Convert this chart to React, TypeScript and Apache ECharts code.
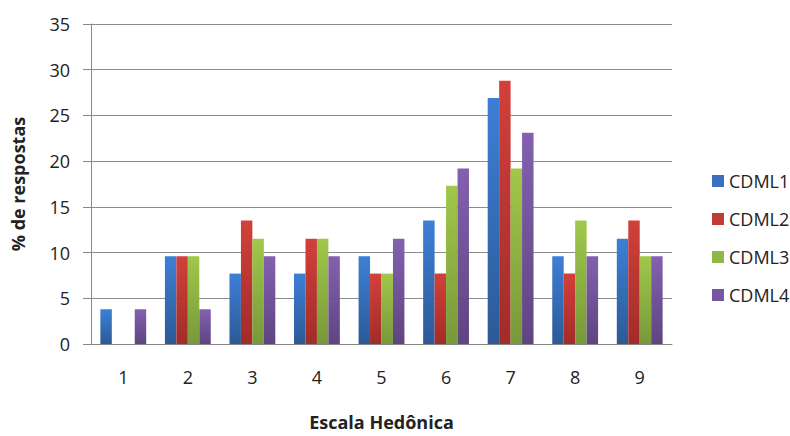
import React, { useEffect, useRef } from "react";
import * as echarts from "echarts";

const categories = ["1", "2", "3", "4", "5", "6", "7", "8", "9"];
const seriesNames = ["CDML1", "CDML2", "CDML3", "CDML4"];
const cdml1 = [3.8, 9.6, 7.7, 7.7, 9.6, 13.5, 26.9, 9.6, 11.5];
const cdml2 = [0, 9.6, 13.5, 11.5, 7.7, 7.7, 28.8, 7.7, 13.5];
const cdml3 = [0, 9.6, 11.5, 11.5, 7.7, 17.3, 19.2, 13.5, 9.6];
const cdml4 = [3.8, 3.8, 9.6, 9.6, 11.5, 19.2, 23.1, 9.6, 9.6];
const seriesData = [cdml1, cdml2, cdml3, cdml4];
const colorsTop = ["#3d7fd6", "#d2403b", "#a0c84a", "#8460b0"];
const colorsBottom = ["#2c5a96", "#a12c28", "#78983a", "#5e4580"];
const legendColors = ["#3a70bf", "#c23a36", "#8fb845", "#7556a0"];

export default function App() {
  const ref = useRef<HTMLDivElement>(null);
  useEffect(() => {
    if (!ref.current) return;
    const chart = echarts.init(ref.current, undefined, { renderer: "svg" });
    const font = "'Open Sans', 'Liberation Sans', sans-serif";
    chart.setOption({
      animation: false,
      textStyle: { fontFamily: font },
      grid: { left: 91, right: 118, top: 24, bottom: 84 },
      legend: {
        orient: "vertical",
        left: 707,
        top: 167,
        itemWidth: 12,
        itemHeight: 12,
        itemGap: 20,
        icon: "rect",
        textStyle: { fontSize: 18, color: "#222", fontFamily: font },
        data: seriesNames.map((n, i) => ({ name: n, itemStyle: { color: legendColors[i] } })),
      },
      xAxis: {
        type: "category",
        data: categories,
        name: "Escala Hedônica",
        nameLocation: "middle",
        nameGap: 69,
        nameTextStyle: { fontSize: 18, fontWeight: "bold", color: "#222", fontFamily: font },
        axisLine: { lineStyle: { color: "#888" } },
        axisTick: { show: false },
        axisLabel: { fontSize: 18, color: "#222", margin: 24 },
      },
      yAxis: {
        type: "value",
        min: 0,
        max: 35,
        interval: 5,
        name: "% de respostas",
        nameLocation: "middle",
        nameGap: 64,
        nameRotate: 90,
        nameTextStyle: { fontSize: 18, fontWeight: "bold", color: "#222", fontFamily: font },
        axisLine: { show: true, lineStyle: { color: "#888" } },
        axisTick: { show: true, length: 8, lineStyle: { color: "#888" } },
        axisLabel: { fontSize: 18, color: "#222", margin: 21 },
        splitLine: { lineStyle: { color: "#8c8c8c" } },
      },
      series: seriesNames.map((n, i) => ({
        name: n,
        type: "bar",
        data: seriesData[i],
        barGap: "0%",
        barCategoryGap: "29%",
        itemStyle: {
          color: new echarts.graphic.LinearGradient(0, 0, 0, 1, [
            { offset: 0, color: colorsTop[i] },
            { offset: 1, color: colorsBottom[i] },
          ]),
        },
      })),
    });
    return () => chart.dispose();
  }, []);
  return <div ref={ref} style={{ width: 790, height: 436, position: "absolute", left: 0, top: 0 }} />;
}
